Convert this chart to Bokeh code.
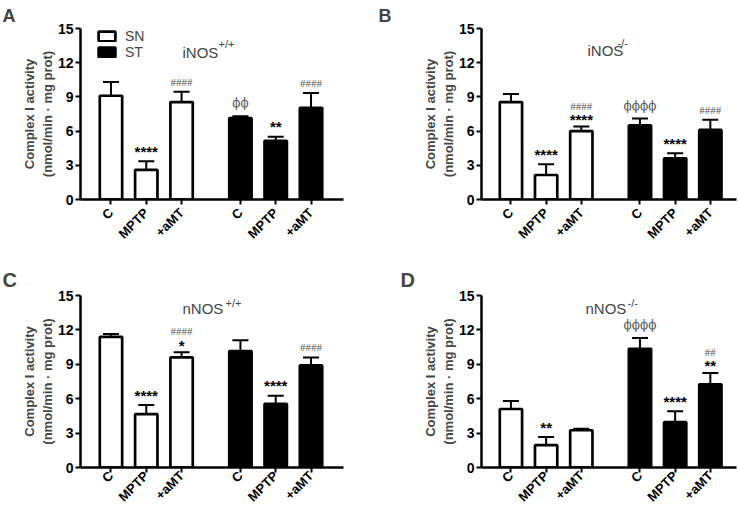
import math
from bokeh.plotting import figure
from bokeh.models import (Range1d, FixedTicker, Label, Legend, LegendItem,
                          ColumnDataSource, Whisker, TeeHead)
from bokeh.layouts import column, row
from bokeh.embed import file_html
from bokeh.resources import INLINE

# ---------------- data ----------------
groups = ["C", "MPTP", "+aMT"]
tick_labels = groups + groups
x_pos = [0, 3, 6, 11, 14, 17]
y_ticks = [0, 3, 6, 9, 12, 15]

# Panel A  iNOS+/+
A_sn = [9.1, 2.6, 8.55]
A_sn_sem = [1.2, 0.75, 0.9]
A_st = [7.15, 5.15, 8.05]
A_st_sem = [0.15, 0.35, 1.3]
A_stars = {1: "****", 4: "**"}
A_hash = {2: "####", 5: "####"}
A_phi = {3: "ϕϕ"}

# Panel B  iNOS-/-
B_sn = [8.55, 2.15, 6.0]
B_sn_sem = [0.7, 0.95, 0.4]
B_st = [6.5, 3.6, 6.1]
B_st_sem = [0.6, 0.45, 0.9]
B_stars = {1: "****", 2: "****", 4: "****"}
B_hash = {2: "####", 5: "####"}
B_phi = {3: "ϕϕϕϕ"}

# Panel C  nNOS+/+
C_sn = [11.4, 4.65, 9.6]
C_sn_sem = [0.25, 0.8, 0.45]
C_st = [10.15, 5.55, 8.9]
C_st_sem = [0.95, 0.7, 0.7]
C_stars = {1: "****", 2: "*", 4: "****"}
C_hash = {2: "####", 5: "####"}
C_phi = {}

# Panel D  nNOS-/-
D_sn = [5.1, 1.95, 3.25]
D_sn_sem = [0.7, 0.7, 0.12]
D_st = [10.35, 3.95, 7.25]
D_st_sem = [0.95, 0.95, 1.0]
D_stars = {1: "**", 4: "****", 5: "**"}
D_hash = {5: "##"}
D_phi = {3: "ϕϕϕϕ"}

FONT = "Liberation Sans"


def make_panel(sn, sn_sem, st, st_sem, stars, hashes, phis, letter, title_main, title_sup,
               geom, xr, title_pos, letter_style, xlab_standoff, legend=False):
    w, h, fl, fr, ft, fb = geom
    fh = h - ft - fb
    ppu = fh / 15.0
    p = figure(width=w, height=h, output_backend="svg", toolbar_location=None,
               x_range=Range1d(*xr), y_range=Range1d(0, 15),
               min_border_left=fl, min_border_right=fr, min_border_top=ft, min_border_bottom=fb)
    p.xgrid.visible = False
    p.ygrid.visible = False
    p.outline_line_color = None

    # panel letter as the figure title
    l_off, l_standoff, l_valign, l_size = letter_style
    p.title.text = letter
    p.title.text_font = FONT
    p.title.text_font_style = "bold"
    p.title.text_font_size = l_size
    p.title.align = "left"
    p.title.offset = l_off
    p.title.standoff = l_standoff
    p.title.vertical_align = l_valign

    means = sn + st
    sems = sn_sem + st_sem
    tops = [m + s for m, s in zip(means, sems)]

    src_sn = ColumnDataSource(dict(x=x_pos[:3], m=sn, e=tops[:3]))
    src_st = ColumnDataSource(dict(x=x_pos[3:], m=st, e=tops[3:]))
    for src in (src_sn, src_st):
        wk = Whisker(source=src, base="x", lower="m", upper="e",
                     line_color="black", line_width=2,
                     upper_head=TeeHead(size=16, line_color="black", line_width=2),
                     lower_head=None)
        p.add_layout(wk)
    r_sn = p.vbar(x="x", top="m", bottom=0, width=1.9, source=src_sn,
                  fill_color="white", line_color="black", line_width=2.7)
    r_st = p.vbar(x="x", top="m", bottom=0, width=1.9, source=src_st,
                  fill_color="black", line_color="black", line_width=2.7)

    # significance marks (offsets in screen pixels above the error-bar cap)
    for i, t in stars.items():
        off = 7 if i in hashes else 10
        p.add_layout(Label(x=x_pos[i], y=tops[i] + off / ppu, text=t, text_align="center",
                           text_baseline="alphabetic", text_font=FONT, text_font_style="bold",
                           text_font_size="15px", text_color="black"))
    for i, t in hashes.items():
        off = 21 if i in stars else 10
        p.add_layout(Label(x=x_pos[i], y=tops[i] + off / ppu, text=t, text_align="center",
                           text_baseline="alphabetic", text_font="Liberation Serif",
                           text_font_size="11px", text_color="#555555"))
    for i, t in phis.items():
        p.add_layout(Label(x=x_pos[i], y=tops[i] + 13 / ppu, text=t, text_align="center",
                           text_baseline="alphabetic", text_font="DejaVu Serif",
                           text_font_size="12px", text_color="#555555"))

    # title with superscript
    tx, ty, sx, sy = title_pos
    p.add_layout(Label(x=tx, y=ty, x_units="screen", y_units="screen", text=title_main,
                       text_font=FONT, text_font_size="15px", text_baseline="alphabetic"))
    p.add_layout(Label(x=sx, y=sy, x_units="screen", y_units="screen", text=title_sup,
                       text_font=FONT, text_font_size="11px", text_baseline="alphabetic"))

    # axes
    p.xaxis.ticker = FixedTicker(ticks=x_pos)
    p.xaxis.major_label_overrides = {x: lab for x, lab in zip(x_pos, tick_labels)}
    p.xaxis.major_label_orientation = math.pi / 4
    p.yaxis.ticker = FixedTicker(ticks=y_ticks)
    for ax in (p.xaxis[0], p.yaxis[0]):
        ax.axis_line_width = 2.5
        ax.axis_line_color = "black"
        ax.major_tick_line_width = 2
        ax.major_tick_line_color = "black"
        ax.major_tick_in = 0
        ax.major_tick_out = 5
        ax.minor_tick_line_color = None
        ax.major_label_text_font = FONT
        ax.major_label_text_font_style = "bold"
        ax.major_label_text_color = "black"
    p.yaxis.major_label_text_font_size = "14px"
    p.yaxis.major_label_standoff = 2
    p.xaxis.major_label_text_font_size = "13px"
    p.xaxis.major_label_standoff = xlab_standoff
    p.yaxis.axis_label = "Complex I activity\n(nmol/min · mg prot)"
    p.yaxis.axis_label_text_font = FONT
    p.yaxis.axis_label_text_font_style = "bold"
    p.yaxis.axis_label_text_font_size = "13px"
    p.yaxis.axis_label_standoff = 0

    if legend:
        lg = Legend(items=[LegendItem(label="SN", renderers=[r_sn]),
                           LegendItem(label="ST", renderers=[r_st])],
                    location=(16, fh - 32), orientation="vertical",
                    glyph_width=21, glyph_height=12, label_height=12, spacing=0,
                    padding=0, margin=0, label_standoff=8,
                    label_text_font=FONT, label_text_font_size="14px",
                    border_line_color=None, background_fill_alpha=0)
        p.add_layout(lg)
    return p


xr_left = (-2.59, 19.76)
xr_right = (-2.51, 19.23)

pA = make_panel(A_sn, A_sn_sem, A_st, A_st_sem, A_stars, A_hash, A_phi, "A", "iNOS", "+/+",
                (369, 256, 80, 26, 28, 57), xr_left, (102, 147, 138, 156),
                (-78, 2, "top", "18px"), 6, legend=True)
pB = make_panel(B_sn, B_sn_sem, B_st, B_st_sem, B_stars, B_hash, B_phi, "B", "iNOS", "-/-",
                (369, 256, 112, 2, 28, 57), xr_right, (106, 149, 136, 157),
                (-103, 2, "top", "18px"), 6)
pC = make_panel(C_sn, C_sn_sem, C_st, C_st_sem, C_stars, C_hash, C_phi, "C", "nNOS", "+/+",
                (369, 256, 80, 26, 39, 45), xr_left, (102, 159, 145, 165),
                (-78, 10, "bottom", "20px"), 1)
pD = make_panel(D_sn, D_sn_sem, D_st, D_st_sem, D_stars, D_hash, D_phi, "D", "nNOS", "-/-",
                (369, 256, 112, 2, 39, 45), xr_right, (104, 159, 146, 165),
                (-81, 9, "bottom", "20px"), 1)

layout = column(row(pA, pB), row(pC, pD))
open("out.html", "w").write(file_html(layout, INLINE))
